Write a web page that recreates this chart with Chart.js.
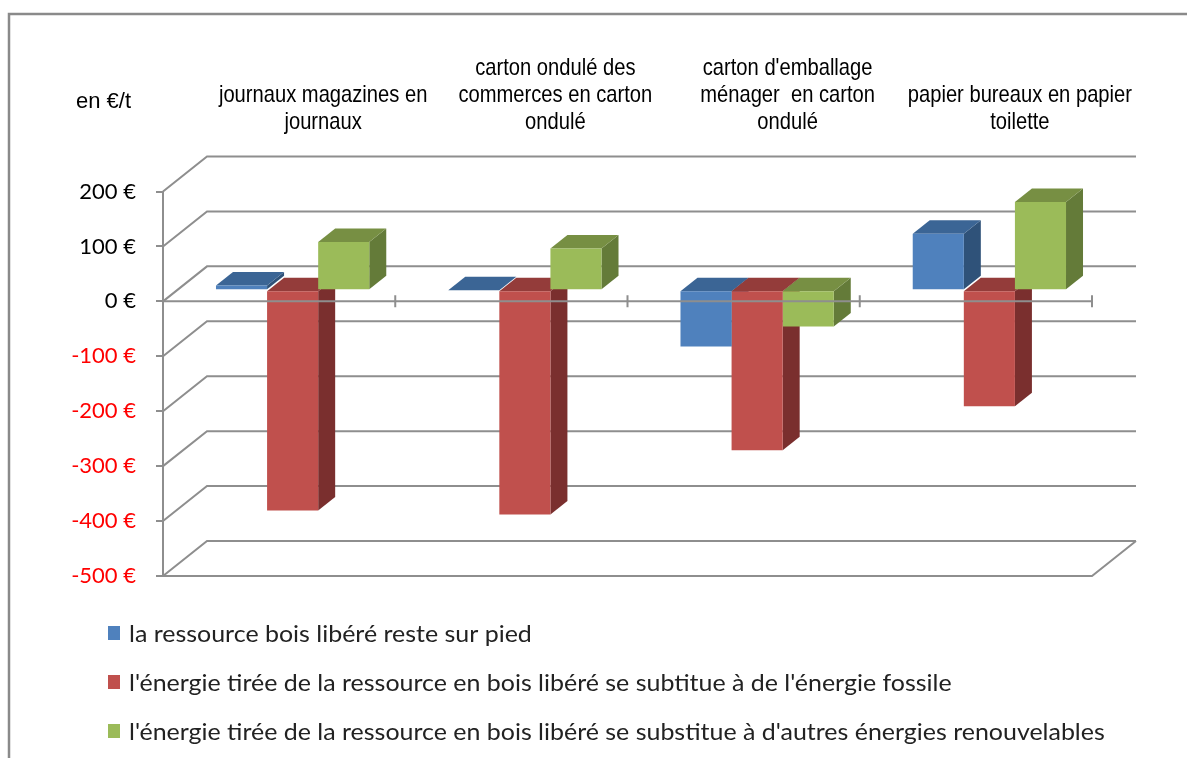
<!DOCTYPE html>
<html>
<head>
<meta charset="utf-8">
<script src="https://cdn.jsdelivr.net/npm/chart.js@4.4.1/dist/chart.umd.min.js"></script>
<style>
  html, body { margin: 0; padding: 0; background: #fff; }
  #wrap { position: relative; width: 1187px; height: 758px; }
</style>
</head>
<body>
<div id="wrap"><canvas id="chart"></canvas></div>
<script>
// categories (already wrapped the way Excel wrapped them)
const categories = [
  ['journaux magazines en', 'journaux'],
  ['carton ondulé des', 'commerces en carton', 'ondulé'],
  ["carton d'emballage", 'ménager  en carton', 'ondulé'],
  ['papier bureaux en papier', 'toilette']
]
const seriesNames = [
  'la ressource bois libéré reste sur pied',
  "l'énergie tirée de la ressource en bois libéré se subtitue à de l'énergie fossile",
  "l'énergie tirée de la ressource en bois libéré se substitue à d'autres énergies renouvelables"
]
// values in €/t
const boisSurPied = [9, 0, -102, 103]
const energieFossile = [-401, -408, -291, -211]
const energiesRenouvelables = [88, 76, -66, 161]
const yTicks = [200, 100, 0, -100, -200, -300, -400, -500]
const unitLabel = 'en €/t'

// styles
const frontColors = ['#4F81BD', '#C0504D', '#9BBB59']
const topColors = ['#3B6595', '#943C3A', '#778F43']
const sideColors = ['#2F5279', '#7A2F2E', '#647B39']
const gridColor = '#8E8E8E'

// fake 3D: offsets of the back wall, of the bar front plane and of the bar depth
const wall = { dx: 44, dy: -35 }
const barShift = { dx: 13.5, dy: -11 }
const barDepth = { dx: 17, dy: -13.5 }

function poly(ctx, pts, color) {
  ctx.beginPath()
  ctx.moveTo(pts[0][0], pts[0][1])
  for (let i = 1; i < pts.length; i++) ctx.lineTo(pts[i][0], pts[i][1])
  ctx.closePath()
  ctx.fillStyle = color
  ctx.fill()
}

const box3d = {
  id: 'box3d',
  beforeDatasetsDraw(chart) {
    const { ctx, chartArea: area, scales: { x, y } } = chart
    ctx.save()
    ctx.strokeStyle = gridColor
    ctx.lineWidth = 2

    // back wall gridlines + side wall diagonals
    yTicks.forEach(v => {
      const py = y.getPixelForValue(v)
      ctx.beginPath()
      ctx.moveTo(area.left, py)
      ctx.lineTo(area.left + wall.dx, py + wall.dy)
      ctx.lineTo(area.right + wall.dx, py + wall.dy)
      ctx.stroke()
    })
    // floor front edge
    const pyMin = y.getPixelForValue(Math.min(...yTicks))
    ctx.beginPath()
    ctx.moveTo(area.left, pyMin)
    ctx.lineTo(area.right, pyMin)
    ctx.lineTo(area.right + wall.dx, pyMin + wall.dy)
    ctx.stroke()

    // top and side faces, category by category, left to right
    ctx.translate(barShift.dx, barShift.dy)
    const n = chart.data.labels.length
    for (let i = 0; i < n; i++) {
      chart.data.datasets.forEach((ds, d) => {
        const el = chart.getDatasetMeta(d).data[i]
        const p = el.getProps(['x', 'y', 'base', 'width'], true)
        const x0 = p.x - p.width / 2
        const x1 = p.x + p.width / 2
        const top = Math.min(p.y, p.base)
        const bot = Math.max(p.y, p.base)
        poly(ctx, [[x1, top], [x1 + barDepth.dx, top + barDepth.dy],
          [x1 + barDepth.dx, bot + barDepth.dy], [x1, bot]], sideColors[d])
        poly(ctx, [[x0, top], [x1, top], [x1 + barDepth.dx, top + barDepth.dy],
          [x0 + barDepth.dx, top + barDepth.dy]], topColors[d])
      })
    }
    ctx.restore()

    // front faces are drawn by Chart.js in the shifted plane
    ctx.save()
    ctx.translate(barShift.dx, barShift.dy)
  },
  afterDatasetsDraw(chart) {
    const { ctx, chartArea: area, scales: { x, y } } = chart
    ctx.restore()

    // category axis at 0, drawn over the bars
    const y0 = y.getPixelForValue(0)
    const step = (area.right - area.left) / chart.data.labels.length
    ctx.save()
    ctx.strokeStyle = gridColor
    ctx.lineWidth = 2
    ctx.beginPath()
    ctx.moveTo(area.left, y0)
    ctx.lineTo(area.right, y0)
    for (let i = 1; i <= chart.data.labels.length; i++) {
      const tx = area.left + i * step
      ctx.moveTo(tx, y0 - 6)
      ctx.lineTo(tx, y0 + 6)
    }
    ctx.stroke()

    // category labels, above the plot, centred on the back wall
    ctx.fillStyle = '#000'
    ctx.font = '24px "Liberation Sans", Arial, sans-serif'
    ctx.textAlign = 'center'
    ctx.textBaseline = 'middle'
    chart.data.labels.forEach((lines, i) => {
      const cx = x.getPixelForValue(i) + wall.dx
      lines.forEach((line, k) => {
        ctx.save()
        ctx.translate(cx, 122 - (lines.length - 1 - k) * 27)
        ctx.scale(0.84, 1)
        ctx.fillText(line, 0, 0)
        ctx.restore()
      })
    })

    // unit label
    ctx.textAlign = 'left'
    ctx.font = '22px "Liberation Sans", Arial, sans-serif'
    ctx.fillText(unitLabel, 76, 102)

    // legend
    ctx.font = '24px Lato, sans-serif'
    chart.data.datasets.forEach((ds, d) => {
      const ly = 633 + d * 49
      ctx.fillStyle = frontColors[d]
      ctx.fillRect(108, ly - 7, 12, 14)
      ctx.fillStyle = '#222'
      ctx.save()
      ctx.translate(129, ly + 1)
      ctx.scale(1.04, 1)
      ctx.fillText(ds.label, 0, 0)
      ctx.restore()
    })

    // outer frame
    ctx.strokeStyle = '#8A8A8A'
    ctx.lineWidth = 2.5
    ctx.strokeRect(9, 14, 1400, 1000)
    ctx.restore()
  }
}

new Chart(document.getElementById('chart'), {
  type: 'bar',
  data: {
    labels: categories,
    datasets: [
      { label: seriesNames[0], data: boisSurPied, backgroundColor: frontColors[0] },
      { label: seriesNames[1], data: energieFossile, backgroundColor: frontColors[1] },
      { label: seriesNames[2], data: energiesRenouvelables, backgroundColor: frontColors[2] }
    ]
  },
  options: {
    responsive: true,
    maintainAspectRatio: false,
    animation: false,
    layout: { padding: { left: 0, right: 95, top: 191.5, bottom: 182 } },
    datasets: { bar: { categoryPercentage: 0.66, barPercentage: 1, borderWidth: 0, clip: false } },
    plugins: { legend: { display: false }, tooltip: { enabled: false } },
    scales: {
      x: { display: false },
      y: {
        min: Math.min(...yTicks),
        max: Math.max(...yTicks),
        afterFit(scale) { scale.width = 163 },
        grid: { drawOnChartArea: false, drawTicks: true, tickLength: 7, color: gridColor, lineWidth: 2 },
        border: { display: true, color: gridColor, width: 2 },
        ticks: {
          stepSize: 100,
          padding: 20,
          font: { family: 'Lato', size: 22 },
          color: ctx => ctx.tick.value < 0 ? '#FF0000' : '#000',
          callback: v => v + ' €'
        }
      }
    }
  },
  plugins: [box3d]
})
</script>
</body>
</html>
